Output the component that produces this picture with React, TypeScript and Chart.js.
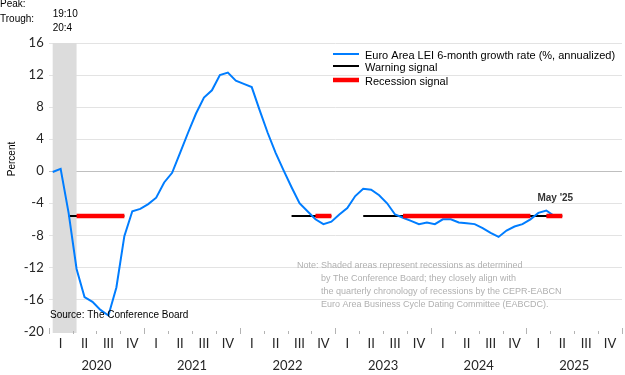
import React, { useEffect, useRef } from 'react';
import { Chart, registerables } from 'chart.js';

Chart.register(...registerables);

// ---------- data ----------
const FIRST_YEAR = 2020;
const YEARS = ['2020', '2021', '2022', '2023', '2024', '2025'];
const QUARTERS = ['I', 'II', 'III', 'IV'];
const Y_MIN = -20;
const Y_MAX = 16;
const Y_STEP = 4;

// Euro Area LEI 6-month growth rate (%, annualized), monthly from Jan 2020
const LEI_GROWTH = [
  -0.1, 0.3, -5.2, -12.2, -15.7, -16.3, -17.3, -18.0, -14.5, -8.1, -5.0, -4.7,
  -4.1, -3.3, -1.4, -0.2, 2.3, 4.8, 7.2, 9.2, 10.1, 12.0, 12.3, 11.3,
  10.9, 10.5, 7.6, 4.8, 2.3, 0.1, -2.0, -4.0, -5.0, -6.0, -6.6, -6.3,
  -5.4, -4.6, -3.1, -2.2, -2.3, -3.0, -4.0, -5.4, -5.8, -6.2, -6.6, -6.4,
  -6.6, -6.0, -6.0, -6.4, -6.5, -6.6, -7.1, -7.7, -8.2, -7.4, -6.9, -6.6,
  -6.0, -5.2, -4.9, -5.6,
];

const SIGNAL_LEVEL = -5.6;
const WARNING_PERIODS: [string, string][] = [
  ['2020-03', '2020-10'],
  ['2022-07', '2022-12'],
  ['2023-04', '2025-05'],
];
const RECESSION_PERIODS: [string, string][] = [
  ['2020-04', '2020-10'],
  ['2022-10', '2022-12'],
  ['2023-09', '2025-01'],
  ['2025-03', '2025-05'],
];
const SHADED_RECESSION: [string, string] = ['2020-01', '2020-04'];
const PEAK_LABEL = '19:10';
const TROUGH_LABEL = '20:4';
const LAST_LABEL = "May '25";
const LAST_LABEL_MONTH = '2025-05';

const LEGEND_ITEMS = [
  'Euro Area LEI 6-month growth rate (%, annualized)',
  'Warning signal',
  'Recession signal',
];
const SOURCE_TEXT = 'Source: The Conference Board';
const NOTE_LINES = [
  'Note: Shaded areas represent recessions as determined',
  'by The Conference Board; they closely align with',
  'the quarterly chronology of recessions by the CEPR-EABCN',
  'Euro Area Business Cycle Dating Committee (EABCDC).',
];

// ---------- helpers ----------
const monthIndex = (s: string) => {
  const [y, m] = s.split('-').map(Number);
  return (y - FIRST_YEAR) * 12 + (m - 1);
};
const periodsToData = (periods: [string, string][], level: number) => {
  const out: { x: number; y: number | null }[] = [];
  periods.forEach(([a, b]) => {
    out.push({ x: monthIndex(a), y: level });
    out.push({ x: monthIndex(b), y: level });
    out.push({ x: monthIndex(b) + 0.01, y: null });
  });
  return out;
};

const BLUE = 'rgb(0,125,255)';
const AXIS_FONT = 'Lato, "Liberation Sans", sans-serif';
const TEXT_FONT = '"Liberation Sans", Arial, sans-serif';

const decorPlugin = {
  id: 'decor',
  beforeDatasetsDraw(chart: any) {
    const { ctx, chartArea, scales } = chart;
    const x = scales.x;
    const x0 = x.getPixelForValue(monthIndex(SHADED_RECESSION[0]));
    const x1 = x.getPixelForValue(monthIndex(SHADED_RECESSION[1]));
    ctx.save();
    ctx.fillStyle = '#dcdcdc';
    ctx.fillRect(x0, chartArea.top, x1 - x0, chartArea.bottom - chartArea.top + 1.5);
    ctx.restore();
  },
  afterDraw(chart: any) {
    const { ctx, chartArea, scales } = chart;
    const x = scales.x;
    const y = scales.y;
    const left = chartArea.left;
    const right = chartArea.right;
    const nQ = YEARS.length * 4;
    const qw = (right - left) / nQ;
    ctx.save();

    // bottom ticks
    ctx.strokeStyle = '#b3b3b3';
    ctx.lineWidth = 1;
    for (let k = 0; k <= nQ; k++) {
      const px = Math.round(left + k * qw) + 0.5;
      ctx.beginPath();
      ctx.moveTo(px, k % 4 === 0 ? 328 : 331);
      ctx.lineTo(px, 334);
      ctx.stroke();
    }
    // quarter + year labels
    ctx.fillStyle = '#262626';
    ctx.textAlign = 'center';
    ctx.textBaseline = 'middle';
    ctx.font = `13px ${AXIS_FONT}`;
    for (let k = 0; k < nQ; k++) {
      ctx.fillText(QUARTERS[k % 4], left + (k + 0.5) * qw, 344);
    }
    YEARS.forEach((yr, i) => {
      ctx.fillText(yr, left + (i * 4 + 2) * qw, 366);
    });

    // y title
    ctx.save();
    ctx.translate(12, 159);
    ctx.rotate(-Math.PI / 2);
    ctx.font = `10px ${TEXT_FONT}`;
    ctx.fillStyle = '#000';
    ctx.fillText('Percent', 0, 0);
    ctx.restore();

    // peak / trough
    ctx.textAlign = 'left';
    ctx.font = `10px ${TEXT_FONT}`;
    ctx.fillStyle = '#000';
    ctx.fillText('Peak:', 0, 4);
    ctx.fillText('Trough:', 0, 19);
    const bx = x.getPixelForValue(monthIndex(SHADED_RECESSION[0]));
    ctx.fillText(PEAK_LABEL, bx, 14);
    ctx.fillText(TROUGH_LABEL, bx, 28);

    // legend
    const lx0 = 333, lx1 = 359, tx = 365;
    const ly = [54, 66, 80];
    ctx.lineCap = 'butt';
    ctx.strokeStyle = BLUE; ctx.lineWidth = 2;
    ctx.beginPath(); ctx.moveTo(lx0, ly[0]); ctx.lineTo(lx1, ly[0]); ctx.stroke();
    ctx.strokeStyle = '#000'; ctx.lineWidth = 2;
    ctx.beginPath(); ctx.moveTo(lx0, ly[1]); ctx.lineTo(lx1, ly[1]); ctx.stroke();
    ctx.strokeStyle = '#ff0000'; ctx.lineWidth = 4.5;
    ctx.beginPath(); ctx.moveTo(lx0, ly[2]); ctx.lineTo(lx1, ly[2]); ctx.stroke();
    ctx.font = `11px ${TEXT_FONT}`;
    ctx.fillStyle = '#000';
    LEGEND_ITEMS.forEach((t, i) => ctx.fillText(t, tx, ly[i] + 1.5));

    // last label
    ctx.font = `bold 10px ${TEXT_FONT}`;
    ctx.fillStyle = '#333';
    ctx.textAlign = 'center';
    ctx.fillText(LAST_LABEL, x.getPixelForValue(monthIndex(LAST_LABEL_MONTH)) - 7, y.getPixelForValue(SIGNAL_LEVEL) - 18);

    // source
    ctx.textAlign = 'left';
    ctx.font = `10px ${TEXT_FONT}`;
    ctx.fillStyle = '#000';
    ctx.fillText(SOURCE_TEXT, 50, 315);

    // note
    ctx.font = `9px ${TEXT_FONT}`;
    ctx.fillStyle = '#b0b0b0';
    NOTE_LINES.forEach((t, i) => ctx.fillText(t, i === 0 ? 297 : 321, 266 + i * 13));

    ctx.restore();
  },
};

export default function App() {
  const ref = useRef<HTMLCanvasElement | null>(null);
  useEffect(() => {
    if (!ref.current) return;
    const lei = LEI_GROWTH.map((v, i) => ({ x: i, y: v }));
    const chart = new Chart(ref.current, {
      type: 'line',
      data: {
        datasets: [
          {
            label: LEGEND_ITEMS[2],
            data: periodsToData(RECESSION_PERIODS, SIGNAL_LEVEL) as any,
            borderColor: '#ff0000',
            borderWidth: 4.5,
            pointRadius: 0,
            spanGaps: false,
          },
          {
            label: LEGEND_ITEMS[0],
            data: lei as any,
            borderColor: BLUE,
            borderWidth: 2,
            pointRadius: 0,
            tension: 0,
          },
          {
            label: LEGEND_ITEMS[1],
            data: periodsToData(WARNING_PERIODS, SIGNAL_LEVEL) as any,
            borderColor: '#000',
            borderWidth: 2,
            pointRadius: 0,
            spanGaps: false,
          },
        ],
      },
      options: {
        responsive: false,
        animation: false,
        events: [],
        layout: { padding: { top: 43, right: 3, bottom: 43.5, left: 0 } },
        plugins: { legend: { display: false }, tooltip: { enabled: false } },
        scales: {
          x: { type: 'linear', min: -0.5, max: YEARS.length * 12 - 0.5, display: false },
          y: {
            min: Y_MIN,
            max: Y_MAX,
            afterFit: (s: any) => { s.width = 48.7; },
            ticks: {
              stepSize: Y_STEP,
              padding: 5,
              color: '#262626',
              font: { family: 'Lato, "Liberation Sans", sans-serif', size: 13 },
            },
            border: { display: false },
            grid: {
              drawTicks: false,
              color: (c: any) => (c.tick && c.tick.value === 0 ? '#bfbfbf' : c.tick && c.tick.value === Y_MIN ? 'rgba(0,0,0,0)' : '#e3e3e3'),
              lineWidth: 1,
            },
          },
        },
      },
      plugins: [decorPlugin],
    });
    return () => chart.destroy();
  }, []);
  return (
    <div style={{ position: 'absolute', left: 0, top: 0, width: 625, height: 375, background: '#fff' }}>
      <canvas ref={ref} width={625} height={375} style={{ display: 'block' }} />
    </div>
  );
}
